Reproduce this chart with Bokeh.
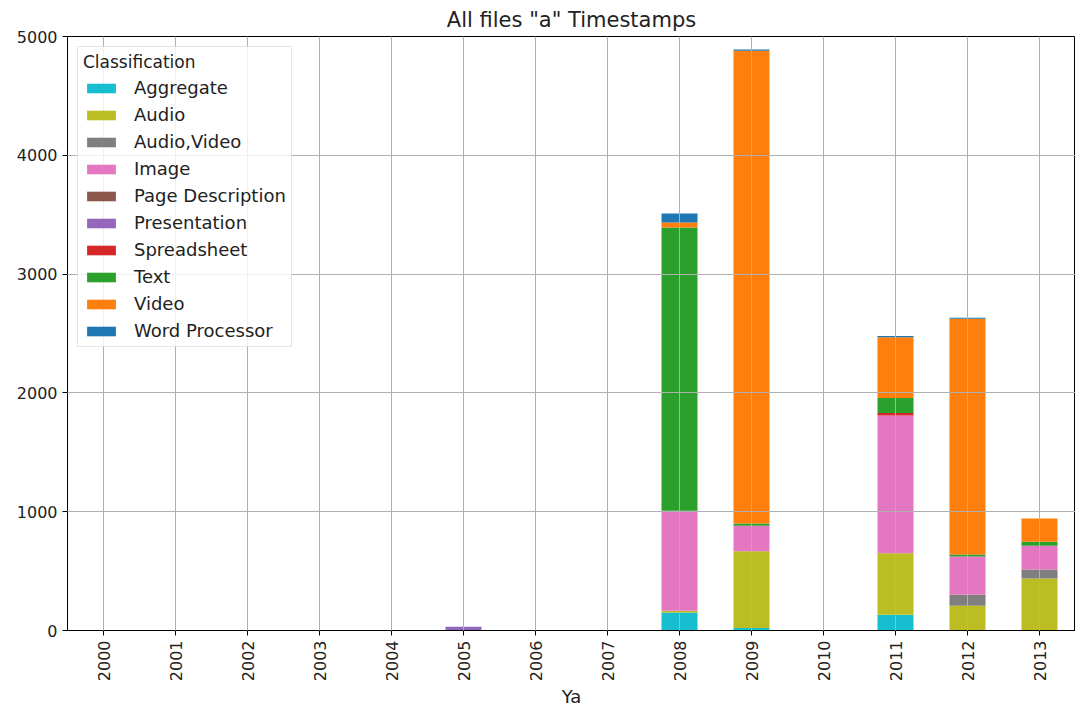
import math
from bokeh.plotting import figure
from bokeh.models import FactorRange, Range1d, Legend, FixedTicker
from bokeh.embed import file_html
from bokeh.resources import INLINE

years = ["2000", "2001", "2002", "2003", "2004", "2005", "2006",
         "2007", "2008", "2009", "2010", "2011", "2012", "2013"]
classes = ["Aggregate", "Audio", "Audio,Video", "Image", "Page Description",
           "Presentation", "Spreadsheet", "Text", "Video", "Word Processor"]
colors = ["#17becf", "#bcbd22", "#7f7f7f", "#e377c2", "#8c564b",
          "#9467bd", "#d62728", "#2ca02c", "#ff7f0e", "#1f77b4"]

aggregate        = [0, 0, 0, 0, 0, 0, 0, 0, 152, 20, 0, 132, 0, 0]
audio            = [0, 0, 0, 0, 0, 0, 0, 0, 15, 647, 0, 518, 208, 437]
audio_video      = [0, 0, 0, 0, 0, 0, 0, 0, 0, 0, 0, 0, 93, 76]
image            = [0, 0, 0, 0, 0, 0, 0, 0, 830, 214, 0, 1160, 321, 200]
page_description = [0, 0, 0, 0, 0, 0, 0, 0, 0, 0, 0, 0, 0, 0]
presentation     = [0, 0, 0, 0, 0, 32, 0, 0, 10, 0, 0, 0, 0, 0]
spreadsheet      = [0, 0, 0, 0, 0, 0, 0, 0, 0, 0, 0, 20, 0, 0]
text             = [0, 0, 0, 0, 0, 0, 0, 0, 2385, 20, 0, 127, 18, 34]
video            = [0, 0, 0, 0, 0, 0, 0, 0, 42, 3980, 0, 512, 1984, 196]
word_processor   = [0, 0, 0, 0, 0, 0, 0, 0, 76, 10, 0, 9, 9, 0]

source = dict(years=years)
for name, vals in zip(classes, [aggregate, audio, audio_video, image, page_description,
                                presentation, spreadsheet, text, video, word_processor]):
    source[name] = vals

FONT = "DejaVu Sans"
TXT = "#222222"

p = figure(x_range=FactorRange(*years), y_range=Range1d(0, 5000),
           width=1075, height=710, output_backend="svg", toolbar_location=None,
           title='All files "a" Timestamps',
           min_border_left=67, min_border_right=0, min_border_top=9, min_border_bottom=20)

renderers = p.vbar_stack(classes, x="years", width=0.5, color=colors, source=source,
                         line_width=0)

legend = Legend(items=[(c, [r]) for c, r in zip(classes, renderers)],
                location="top_left", title="Classification")
p.add_layout(legend, "center")
legend.title_text_font = FONT
legend.title_text_font_size = "17px"
legend.title_text_font_style = "normal"
legend.title_text_color = TXT
legend.label_text_font = FONT
legend.label_text_font_size = "18px"
legend.label_text_color = TXT
legend.glyph_width = 36
legend.glyph_height = 12
legend.label_height = 21
legend.spacing = 6
legend.padding = 5
legend.margin = 10
legend.border_line_color = "#cccccc"
legend.background_fill_alpha = 0.8
legend.label_standoff = 15

p.title.align = "center"
p.title.text_font = FONT
p.title.text_font_size = "21px"
p.title.text_font_style = "normal"
p.title.text_color = TXT

p.yaxis.ticker = FixedTicker(ticks=[0, 1000, 2000, 3000, 4000, 5000])
for ax in (p.xaxis[0], p.yaxis[0]):
    ax.major_label_text_font = FONT
    ax.major_label_text_font_size = "16px"
    ax.major_label_text_color = TXT
    ax.axis_line_color = "black"
    ax.major_tick_line_color = "black"
    ax.major_tick_out = 5
    ax.major_tick_in = 0
    ax.minor_tick_line_color = None
p.xaxis.major_label_orientation = math.pi / 2
p.xaxis.axis_label = "Ya"
p.xaxis.axis_label_text_font = FONT
p.xaxis.axis_label_text_font_size = "18px"
p.xaxis.axis_label_text_font_style = "normal"
p.xaxis.axis_label_text_color = TXT
p.xaxis.axis_label_standoff = 2

p.xgrid.grid_line_color = "#b0b0b0"
p.ygrid.grid_line_color = "#b0b0b0"
p.xgrid.level = "guide"
p.ygrid.level = "guide"
p.outline_line_color = "black"
p.outline_line_alpha = 1

open("out.html", "w").write(file_html(p, INLINE))
